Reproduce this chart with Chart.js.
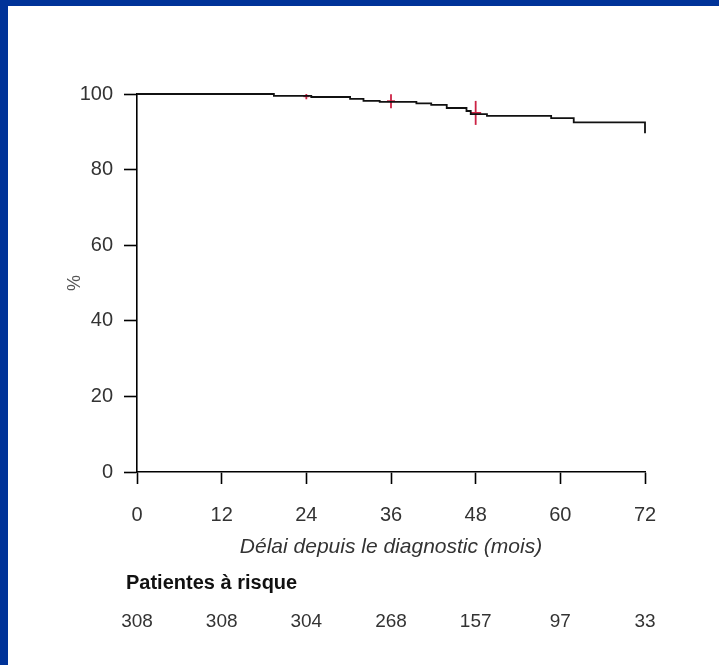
<!DOCTYPE html>
<html>
<head>
<meta charset="utf-8">
<script src="https://cdn.jsdelivr.net/npm/chart.js@4.4.1/dist/chart.umd.min.js"></script>
<style>
html, body { margin: 0; padding: 0; background: #003399; }
#frame { position: absolute; left: 8px; top: 6px; width: 711px; height: 659px; background: #fff; }
canvas { display: block; }
</style>
</head>
<body>
<div id="frame"><canvas id="chart" width="711" height="659"></canvas></div>
<script>
// Kaplan-Meier steps (months, %)
const months   = [0, 19.4, 24.7, 30.2, 32.1, 34.4, 39.6, 41.7, 43.9, 46.7, 47.3, 49.6, 58.7, 61.9, 72, 72];
const survival = [100, 99.5, 99.2, 98.7, 98.2, 97.9, 97.5, 97.1, 96.3, 95.5, 94.7, 94.2, 93.6, 92.5, 92.5, 89.6];

// censor marks
const censorMonths   = [24, 36, 48];
const censorSurvival = [99.4, 98.1, 95.0];

const xTicks = [0, 12, 24, 36, 48, 60, 72];
const yTicks = [0, 20, 40, 60, 80, 100];
const atRisk = [308, 308, 304, 268, 157, 97, 33];
const riskTitle = "Patientes à risque";

const FONT = '"Liberation Sans", Arial, sans-serif';

const kmPoints = months.map((m, i) => ({ x: m, y: survival[i] }));
const censorPoints = censorMonths.map((m, i) => ({ x: m, y: censorSurvival[i] }));

const riskTable = {
    id: 'riskTable',
    afterDraw(chart) {
        const ctx = chart.ctx;
        const x = chart.scales.x;
        ctx.save();
        ctx.fillStyle = '#111';
        ctx.textBaseline = 'middle';
        ctx.font = 'bold 20px ' + FONT;
        ctx.textAlign = 'left';
        ctx.fillText(riskTitle, 118, 577);
        ctx.font = '19px ' + FONT;
        ctx.fillStyle = '#333';
        ctx.textAlign = 'center';
        xTicks.forEach((t, i) => {
            ctx.fillText(String(atRisk[i]), x.getPixelForValue(t), 616);
        });
        ctx.restore();
    }
};

const ctx = document.getElementById('chart').getContext('2d');

const chart = new Chart(ctx, {
    type: 'scatter',
    data: {
        datasets: [{
            data: kmPoints,
            showLine: true,
            stepped: true,
            borderColor: '#111',
            borderWidth: 1.8,
            pointRadius: 0,
            clip: 8
        }, {
            // horizontal part of the censor crosses
            data: censorPoints,
            pointStyle: 'line',
            pointRadius: [3, 4, 5.5],
            borderColor: '#cc2244',
            pointBorderWidth: 1.8,
            showLine: false
        }, {
            // vertical part
            data: censorPoints,
            pointStyle: 'line',
            rotation: 90,
            pointRadius: [3, 7, 12],
            borderColor: '#cc2244',
            pointBorderWidth: 1.8,
            showLine: false
        }]
    },
    options: {
        responsive: false,
        devicePixelRatio: 1,
        animation: false,
        layout: { padding: { top: 88, right: 74, bottom: 100, left: 0 } },
        plugins: { legend: { display: false }, tooltip: { enabled: false } },
        scales: {
            x: {
                type: 'linear',
                min: 0,
                max: 72,
                afterBuildTicks: s => { s.ticks = xTicks.map(v => ({ value: v })); },
                afterFit: s => { s.height = 93; },
                border: { color: '#000', width: 1.6 },
                grid: { drawOnChartArea: false, tickLength: 12, tickColor: '#000', tickWidth: 1.6 },
                ticks: { font: { family: FONT, size: 20 }, color: '#333', padding: 19, maxRotation: 0 },
                title: {
                    display: true,
                    text: 'Délai depuis le diagnostic (mois)',
                    font: { family: FONT, size: 21, style: 'italic' },
                    color: '#333',
                    padding: { top: 0, bottom: 5 }
                }
            },
            y: {
                min: 0,
                max: 100,
                afterBuildTicks: s => { s.ticks = yTicks.map(v => ({ value: v })); },
                afterFit: s => { s.width = 129; },
                border: { color: '#000', width: 1.6 },
                grid: { drawOnChartArea: false, tickLength: 13, tickColor: '#000', tickWidth: 1.6 },
                ticks: { font: { family: FONT, size: 20 }, color: '#333', padding: 11 },
                title: {
                    display: true,
                    text: '%',
                    font: { family: FONT, size: 18 },
                    color: '#555',
                    padding: { top: 56, bottom: 0 }
                }
            }
        }
    },
    plugins: [riskTable]
});
</script>
</body>
</html>
